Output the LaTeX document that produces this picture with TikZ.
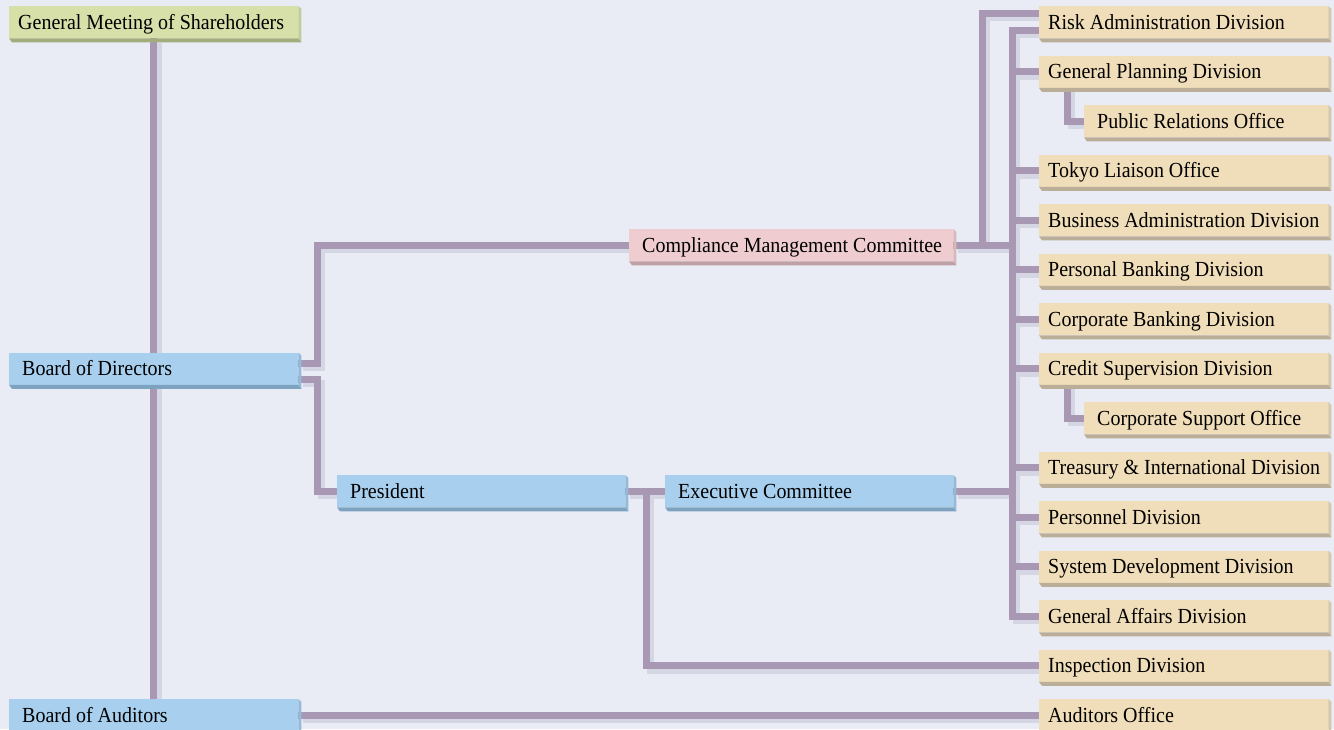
\documentclass[tikz,border=0pt]{standalone}
\usepackage{fontspec}
\setmainfont[FakeStretch=0.93]{Liberation Serif}
\usetikzlibrary{calc}
\definecolor{bgc}{HTML}{E9ECF5}
\definecolor{lnmain}{HTML}{A898B4}
\definecolor{lnshadow}{HTML}{D5D6E4}
\definecolor{blubody}{HTML}{A8D0EE}
\definecolor{bluright}{HTML}{93BAD8}
\definecolor{blubot}{HTML}{7DA3C0}
\definecolor{tanbody}{HTML}{F0DDB9}
\definecolor{tanright}{HTML}{D8C7A6}
\definecolor{tanbot}{HTML}{BBAE98}
\definecolor{grnbody}{HTML}{D7E0A9}
\definecolor{grnright}{HTML}{C2CC95}
\definecolor{grnbot}{HTML}{A3AD7C}
\definecolor{pnkbody}{HTML}{EECCCF}
\definecolor{pnkright}{HTML}{D9B8BB}
\definecolor{pnkbot}{HTML}{BFA0A4}
\pgfdeclarelayer{bg}
\pgfsetlayers{bg,main}
\tikzset{
  orgbox/.style={anchor=north west, inner sep=0pt, minimum height=32pt,
    text height=16pt, text depth=2pt, font=\fontsize{21.5}{24}\selectfont},
  shad/.style={line width=7pt, draw=lnshadow, line join=miter,
    transform canvas={xshift=4.5pt,yshift=-4.5pt}},
  conn/.style={line width=7pt, draw=lnmain, line join=miter}
}
\newcommand\orgbox[7]{%
  \node[orgbox, fill=#5body] (#1) at (#2,#3) {\hbox to #4pt{\hspace{#6pt}#7\hfil}};
  \fill[#5right] (#1.north east) -- ++(3,3) -- ($(#1.south east)+(3,4)$) -- (#1.south east) -- cycle;
  \fill[#5bot] (#1.south west) -- (#1.south east) -- ($(#1.south east)+(3,4)$) -- ($(#1.south west)+(3,4)$) -- cycle;
}
\newcommand\allconns[1]{%
  \draw[#1] (gms.south) -- (bod.north);
  \draw[#1] (bod.south) -- (boa.north);
  \draw[#1] ($(bod.north east)+(0,10.5)$) -- ++(19,0) |- (cmc.west);
  \draw[#1] ($(bod.north east)+(0,26.5)$) -- ++(19,0) |- (pres.west);
  \draw[#1] (pres.east) -- (exec.west);
  \draw[#1] ($(pres.east)+(21,0)$) |- (insp.west);
  \draw[#1] (exec.east) -- (exec.east -| busx);
  \draw[#1] (cmc.east) -- (cmc.east -| busx);
  \draw[#1] (cmc.east -| outx) |- ($(risk.north west)+(0,7)$);
  \draw[#1] ($(risk.north west)+(0,24)$) -| (ga.west -| busx) -- (ga.west);
  \foreach \d in {gp,tokyo,ba,pb,cb,cs,ti,pers,sd} {\draw[#1] (\d.west -| busx) -- (\d.west);}
  \draw[#1] ($(gp.south west)+(28,0)$) |- (pr.west);
  \draw[#1] ($(cs.south west)+(28,0)$) |- (cso.west);
  \draw[#1] (boa.east) -- (ao.west);
}
\begin{document}
\begin{tikzpicture}[x=1pt,y=-1pt]
\useasboundingbox (0,0) rectangle (1334,729);
\begin{pgfonlayer}{bg}
\fill[bgc] (0,0) rectangle (1334,729);
\end{pgfonlayer}
\coordinate (busx) at (1012,0);
\coordinate (outx) at (982,0);
% left column
\orgbox{gms}{9}{6}{289}{grn}{9}{General Meeting of Shareholders}
\orgbox{bod}{9}{352.5}{289}{blu}{13}{Board of Directors}
\orgbox{boa}{9}{699}{289}{blu}{13}{Board of Auditors}
% middle
\orgbox{cmc}{629}{229}{324}{pnk}{13}{Compliance Management Committee}
\orgbox{pres}{337}{475}{288}{blu}{13}{President}
\orgbox{exec}{665}{475}{288}{blu}{13}{Executive Committee}
% right column
\orgbox{risk}{1039}{6}{289}{tan}{9}{Risk Administration Division}
\orgbox{gp}{1039}{55.5}{289}{tan}{9}{General Planning Division}
\orgbox{pr}{1084}{105}{244}{tan}{13}{Public Relations Office}
\orgbox{tokyo}{1039}{154.5}{289}{tan}{9}{Tokyo Liaison Office}
\orgbox{ba}{1039}{204}{289}{tan}{9}{Business Administration Division}
\orgbox{pb}{1039}{253.5}{289}{tan}{9}{Personal Banking Division}
\orgbox{cb}{1039}{303}{289}{tan}{9}{Corporate Banking Division}
\orgbox{cs}{1039}{352.5}{289}{tan}{9}{Credit Supervision Division}
\orgbox{cso}{1084}{402}{244}{tan}{13}{Corporate Support Office}
\orgbox{ti}{1039}{451.5}{289}{tan}{9}{Treasury \& International Division}
\orgbox{pers}{1039}{501}{289}{tan}{9}{Personnel Division}
\orgbox{sd}{1039}{550.5}{289}{tan}{9}{System Development Division}
\orgbox{ga}{1039}{600}{289}{tan}{9}{General Affairs Division}
\orgbox{insp}{1039}{649.5}{289}{tan}{9}{Inspection Division}
\orgbox{ao}{1039}{699}{289}{tan}{9}{Auditors Office}
\begin{pgfonlayer}{bg}
\allconns{shad}
\allconns{conn}
\end{pgfonlayer}
\end{tikzpicture}
\end{document}
